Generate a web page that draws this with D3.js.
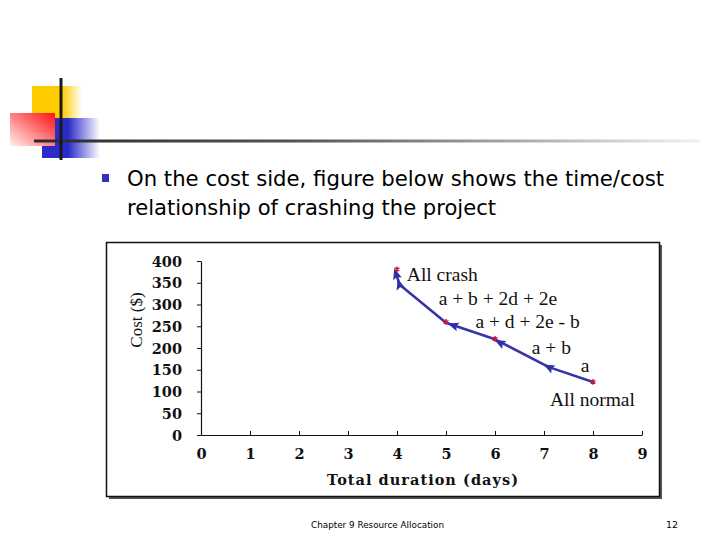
<!DOCTYPE html>
<html>
<head>
<meta charset="utf-8">
<script src="https://cdn.jsdelivr.net/npm/d3@7"></script>
<style>
  body { margin: 0; background: #fff; }
  svg { display: block; }
  .tick-label text { font-family: "DejaVu Serif", serif; font-weight: bold; }
</style>
</head>
<body>
<div id="slide"></div>
<script>
// chart data
const xTicks = [0, 1, 2, 3, 4, 5, 6, 7, 8, 9];
const yTicks = [0, 50, 100, 150, 200, 250, 300, 350, 400];

// crash curve (blue line, from all normal back to all crash)
const lineDays = [8, 7.1, 6, 5, 4.05, 3.98];
const lineCosts = [122, 156, 220, 258, 346, 372];

// arrow heads on the line
const arrowDays = [7.1, 6.1, 5.15, 4.05, 3.98];
const arrowCosts = [156, 212, 252, 346, 370];

// red points
const pointDays = [4, 5, 6, 8];
const pointCosts = [381, 260, 221, 122];

// labels next to the curve
const labelTexts = ["All crash", "a + b + 2d + 2e", "a + d + 2e - b", "a + b", "a", "All normal"];
const labelDays = [4.2, 4.85, 5.6, 6.75, 7.75, 7.12];
const labelCosts = [354, 300, 245, 187, 145, 67];

const width = 720, height = 540;

const svg = d3.select("#slide").append("svg")
    .attr("width", width)
    .attr("height", height);

const defs = svg.append("defs");

function hGrad(id, stops) {
    let g = defs.append("linearGradient").attr("id", id)
        .attr("x1", "0%").attr("y1", "0%").attr("x2", "100%").attr("y2", "0%");
    stops.forEach(s => g.append("stop").attr("offset", s[0]).attr("stop-color", s[1]).attr("stop-opacity", s[2]));
}
hGrad("yellowGrad", [["0%", "#ffcc00", 1], ["60%", "#ffcc00", 1], ["100%", "#ffcc00", 0]]);
hGrad("blueGrad", [["0%", "#2b2bc8", 1], ["45%", "#2b2bc8", 1], ["100%", "#2b2bc8", 0]]);
hGrad("lineGrad", [["0%", "#2a2a2a", 1], ["40%", "#555", 1], ["100%", "#f2f2f2", 1]]);
let rg = defs.append("linearGradient").attr("id", "redGrad")
    .attr("x1", "100%").attr("y1", "0%").attr("x2", "0%").attr("y2", "100%");
rg.append("stop").attr("offset", "0%").attr("stop-color", "#ff1010");
rg.append("stop").attr("offset", "100%").attr("stop-color", "#fff0f0");

// decorative corner logo
svg.append("rect").attr("x", 32).attr("y", 86).attr("width", 50).attr("height", 32).attr("fill", "url(#yellowGrad)");
svg.append("rect").attr("x", 42).attr("y", 118).attr("width", 58).attr("height", 40).attr("fill", "url(#blueGrad)");
svg.append("rect").attr("x", 10).attr("y", 113).attr("width", 45).attr("height", 33).attr("fill", "url(#redGrad)");
svg.append("rect").attr("x", 34).attr("y", 139.5).attr("width", 666).attr("height", 3).attr("fill", "url(#lineGrad)");
svg.append("line").attr("x1", 61).attr("x2", 61).attr("y1", 78).attr("y2", 160)
    .attr("stroke", "#1a1a1a").attr("stroke-width", 3);

// bullet text
svg.append("rect").attr("x", 102).attr("y", 174).attr("width", 7).attr("height", 8).attr("fill", "#3333aa");
svg.append("text").attr("x", 127).attr("y", 186)
    .attr("font-family", "'DejaVu Sans', sans-serif").attr("font-size", 20.5)
    .attr("textLength", 537).attr("lengthAdjust", "spacingAndGlyphs")
    .text("On the cost side, figure below shows the time/cost");
svg.append("text").attr("x", 127).attr("y", 215)
    .attr("font-family", "'DejaVu Sans', sans-serif").attr("font-size", 20.5)
    .attr("textLength", 369).attr("lengthAdjust", "spacingAndGlyphs")
    .text("relationship of crashing the project");

// chart frame with shadow
svg.append("rect").attr("x", 109).attr("y", 245).attr("width", 553).attr("height", 254).attr("fill", "#555");
svg.append("rect").attr("x", 106.5).attr("y", 242.5).attr("width", 553).attr("height", 254)
    .attr("fill", "#fff").attr("stroke", "#111").attr("stroke-width", 1.5);

// scales
const x = d3.scaleLinear().domain([0, 9]).range([201, 642]);
const y = d3.scaleLinear().domain([0, 400]).range([435, 261]);

const xAxis = d3.axisBottom(x).tickValues(xTicks).tickSizeInner(-4).tickSizeOuter(0).tickPadding(14);
const yAxis = d3.axisLeft(y).tickValues(yTicks).tickSizeInner(4).tickSizeOuter(0).tickPadding(15);

const gx = svg.append("g").attr("class", "tick-label")
    .attr("transform", "translate(0," + y(0) + ")").call(xAxis);
const gy = svg.append("g").attr("class", "tick-label")
    .attr("transform", "translate(" + x(0) + ",0)").call(yAxis);

[gx, gy].forEach(g => {
    g.select(".domain").attr("stroke", "#111").attr("stroke-width", 1.2);
    g.selectAll(".tick line").attr("stroke", "#111");
    g.selectAll("text").attr("fill", "#111").attr("font-size", 14.5);
});
gy.selectAll("text").attr("dy", "0.36em");

// axis titles
svg.append("text").attr("x", 327).attr("y", 485)
    .attr("font-family", "'DejaVu Serif', serif").attr("font-weight", "bold").attr("font-size", 14.5)
    .attr("textLength", 191).attr("lengthAdjust", "spacing")
    .attr("fill", "#111").text("Total duration (days)");
svg.append("text").attr("transform", "translate(142,320) rotate(-90)").attr("text-anchor", "middle")
    .attr("font-family", "'Liberation Serif', serif").attr("font-size", 17)
    .attr("fill", "#111").text("Cost ($)");

// blue crash curve
const linePts = lineDays.map((d, i) => [x(d), y(lineCosts[i])]);
svg.append("path")
    .attr("d", d3.line()(linePts))
    .attr("fill", "none")
    .attr("stroke", "#3535a8")
    .attr("stroke-width", 2.6)
    .attr("stroke-linejoin", "round");

// arrow heads oriented along the curve
const arrows = arrowDays.map((d, i) => {
    let k = lineDays.findIndex((v, j) => j < lineDays.length - 1 && v >= d && d > lineDays[j + 1]);
    if (k < 0) k = lineDays.length - 2;
    let a = Math.atan2(linePts[k + 1][1] - linePts[k][1], linePts[k + 1][0] - linePts[k][0]) * 180 / Math.PI;
    return {px: x(d), py: y(arrowCosts[i]), angle: a};
});
svg.selectAll(".arrow").data(arrows).enter().append("path")
    .attr("class", "arrow")
    .attr("d", "M6,0 L-5,-4.5 L-3,0 L-5,4.5 Z")
    .attr("fill", "#2f2fa8")
    .attr("transform", d => "translate(" + d.px + "," + d.py + ") rotate(" + d.angle + ")");

// red points
svg.selectAll(".pt").data(pointDays).enter().append("path")
    .attr("class", "pt")
    .attr("d", d3.symbol().type(d3.symbolAsterisk).size(22))
    .attr("stroke", "#b8184a")
    .attr("stroke-width", 1.4)
    .attr("transform", (d, i) => "translate(" + x(d) + "," + y(pointCosts[i]) + ")");

// curve labels
svg.selectAll(".lbl").data(labelTexts).enter().append("text")
    .attr("class", "lbl")
    .attr("x", (d, i) => x(labelDays[i]))
    .attr("y", (d, i) => y(labelCosts[i]))
    .attr("font-family", "'Liberation Serif', serif")
    .attr("font-size", 19.5)
    .attr("fill", "#111")
    .text(d => d);

// footer
svg.append("text").attr("x", 311).attr("y", 528)
    .attr("font-family", "'DejaVu Sans', sans-serif").attr("font-size", 9.5)
    .attr("textLength", 133).attr("lengthAdjust", "spacingAndGlyphs")
    .text("Chapter 9 Resource Allocation");
svg.append("text").attr("x", 666).attr("y", 528)
    .attr("font-family", "'DejaVu Sans', sans-serif").attr("font-size", 9.5)
    .text("12");
</script>
</body>
</html>
